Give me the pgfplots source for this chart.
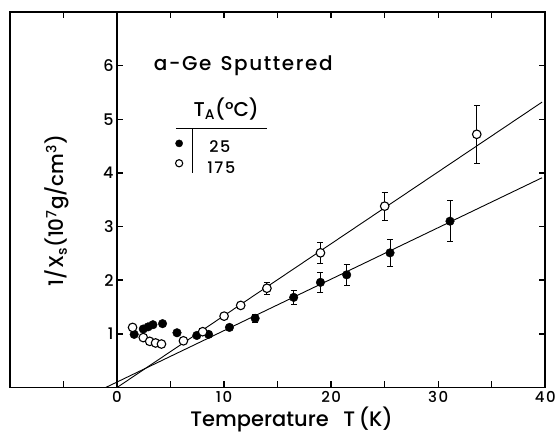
\documentclass[border=0pt]{standalone}
\usepackage{fontspec}
\setmainfont{Poppins}[UprightFont={* Medium}, BoldFont={* SemiBold}]
\usepackage{pgfplots}
\pgfplotsset{compat=1.18}

\begin{document}
\begin{tikzpicture}
\begin{axis}[
  scale only axis, width=536pt, height=376pt,
  xmin=-10, xmax=40, ymin=0, ymax=7,
  axis line style={line width=1.6pt},
  tick style={line width=1.4pt, black},
  major tick length=6pt,
  tick align=inside,
  xtick={-5,0,...,40},
  xticklabels={,0,,10,,20,,30,,40},
  xtick pos=both,
  ytick={1,...,6}, yticklabels={}, ytick pos=right,
  /pgf/number format/assume math mode=true,
  xticklabel style={font=\fontsize{15}{15}\selectfont\addfontfeatures{LetterSpace=10}},
  clip=false,
]
% fit lines
\addplot[black, line width=0.9pt, no marks] coordinates {(0,0) (39.7,5.32)};
\addplot[black, line width=0.9pt, no marks] coordinates {(-1.06,0) (39.7,3.91)};

% T_A = 25 C (filled)
\addplot[only marks, mark=*, mark size=4.3pt, black] coordinates {
  (1.6,0.99) (2.45,1.09) (2.9,1.13) (3.35,1.17) (4.25,1.19)
  (5.6,1.02) (7.45,0.97) (8.55,0.99) (10.5,1.12)};
\addplot[only marks, mark=*, mark size=4.3pt, black,
  error bars/.cd, y dir=both, y explicit,
  error bar style={line width=0.9pt},
  error mark options={rotate=90, mark size=3pt, line width=0.9pt}] coordinates {
  (12.9,1.29) +- (0,0.07) (16.5,1.68) +- (0,0.13) (19.0,1.96) +- (0,0.18)
  (21.45,2.10) +- (0,0.19) (25.5,2.51) +- (0,0.25) (31.1,3.10) +- (0,0.38)};

% T_A = 175 C (open)
\addplot[only marks, mark=*, mark size=4.3pt, black, mark options={fill=white, line width=1.1pt}] coordinates {
  (1.45,1.12) (2.45,0.93) (3.05,0.86) (3.6,0.83) (4.15,0.81)
  (6.2,0.87) (8.0,1.04) (10.0,1.33)};
\addplot[only marks, mark=*, mark size=4.3pt, black, mark options={fill=white, line width=1.1pt},
  error bars/.cd, y dir=both, y explicit,
  error bar style={line width=0.9pt},
  error mark options={rotate=90, mark size=3pt, line width=0.9pt}] coordinates {
  (11.55,1.53) +- (0,0.05) (14.0,1.85) +- (0,0.11) (19.0,2.51) +- (0,0.19)
  (25.0,3.38) +- (0,0.26) (33.6,4.72) +- (0,0.54)};

% key symbols
\addplot[only marks, mark=*, mark size=3.6pt, black] coordinates {(5.8,4.55)};
\addplot[only marks, mark=*, mark size=3.6pt, black, mark options={fill=white, line width=1.1pt}] coordinates {(5.8,4.18)};

% inner y axis at T=0
\draw[line width=1.6pt] (axis cs:0,0) -- (axis cs:0,7);
\pgfplotsinvokeforeach{1,...,6}{
  \draw[line width=1.4pt] (axis cs:0,#1) -- ([xshift=6pt]axis cs:0,#1);
  \node[anchor=east, font=\fontsize{16}{16}\selectfont] at (axis cs:0,#1) {#1};
}

\node[anchor=west, font=\fontsize{20}{20}\selectfont\addfontfeatures{LetterSpace=8}] at (axis cs:3.1,6.0) {a-Ge\hspace{0.45em}Sputtered};
\node[font=\fontsize{20}{20}\selectfont] at (axis cs:10.2,5.2) {T\textsubscript{A}(°C)};
\draw[line width=1.1pt] (axis cs:5.5,4.82) -- (axis cs:14,4.82);
\draw[line width=0.9pt] (axis cs:7.0,4.82) -- (axis cs:7.0,4.0);
\node[anchor=west, font=\fontsize{16}{16}\selectfont\addfontfeatures{LetterSpace=10}] at (axis cs:8.3,4.5) {25};
\node[anchor=west, font=\fontsize{16}{16}\selectfont\addfontfeatures{LetterSpace=10}] at (axis cs:8.1,4.1) {175};

\node[rotate=90, font=\fontsize{20}{20}\selectfont] at (axis cs:-5.6,3.3)
  {1/X\textsubscript{s}(10\textsuperscript{7}g/cm\textsuperscript{3})};
\node[font=\fontsize{21}{21}\selectfont] at (axis cs:16.3,0) [yshift=-32pt]
  {Temperature\hspace{0.7em}T\,(K)};

\coordinate (ll) at (rel axis cs:0,0);
\coordinate (ur) at (rel axis cs:1,1);
\end{axis}
\path ([shift={(-10pt,-46pt)}]ll) rectangle ([shift={(13pt,12pt)}]ur);
\end{tikzpicture}
\end{document}
